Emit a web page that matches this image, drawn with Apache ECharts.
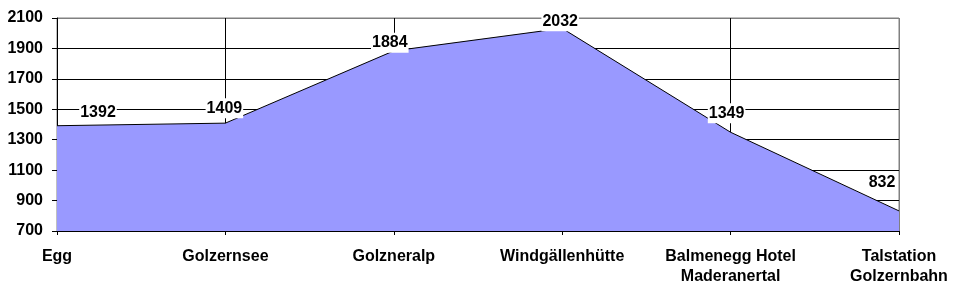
<!DOCTYPE html>
<html><head><meta charset="utf-8">
<script src="https://cdn.jsdelivr.net/npm/echarts@6/dist/echarts.min.js"></script>
<style>html,body{margin:0;padding:0;background:#fff}#c{width:966px;height:305px}</style>
</head><body><div id="c"></div>
<script>
const categories = ['Egg', 'Golzernsee', 'Golzneralp', 'Windgällenhütte', 'Balmenegg Hotel\nMaderanertal', 'Talstation\nGolzernbahn'];
const elevations = [1392, 1409, 1884, 2032, 1349, 832];
const labelOffsets = [[41, -13], [-1, -15], [-4, -8], [-2, -7], [-4, -19], [-17, -28]];
const yMin = 700, yMax = 2100, yStep = 200;

const font = 'Liberation Sans, Arial, sans-serif';
const chart = echarts.init(document.getElementById('c'), null, {renderer: 'canvas'});
chart.setOption({
  animation: false,
  backgroundColor: '#fff',
  grid: {left: 57, right: 67, top: 18, bottom: 74, show: true, borderColor: '#808080', borderWidth: 1},
  xAxis: {
    type: 'category', data: categories, boundaryGap: false,
    axisLine: {lineStyle: {color: '#000', width: 1}},
    axisTick: {show: true, length: 4, lineStyle: {color: '#000'}, alignWithLabel: true},
    axisLabel: {color: '#000', fontFamily: font, fontWeight: 'bold', fontSize: 16, lineHeight: 20, margin: 16, interval: 0},
    splitLine: {show: true, lineStyle: {color: ['#000', '#000', '#000', '#000', '#000', '#808080'], width: 1}}
  },
  yAxis: {
    type: 'value', min: yMin, max: yMax, interval: yStep,
    axisLine: {show: true, lineStyle: {color: '#000'}},
    axisTick: {show: true, length: 5, lineStyle: {color: '#000'}},
    axisLabel: {color: '#000', fontFamily: font, fontWeight: 'bold', fontSize: 16, margin: 14, formatter: v => String(v)},
    splitLine: {show: true, lineStyle: {color: ['#000', '#000', '#000', '#000', '#000', '#000', '#000', '#808080'], width: 1}}
  },
  series: [{
    type: 'line',
    data: elevations.map((v, i) => ({value: v, label: {offset: labelOffsets[i]}})),
    symbol: 'circle', symbolSize: 0, showSymbol: true,
    lineStyle: {color: '#000', width: 1},
    itemStyle: {color: '#000'},
    areaStyle: {color: '#9999FF', opacity: 1},
    label: {show: true, position: 'inside', color: '#000', fontFamily: font, fontWeight: 'bold', fontSize: 16, backgroundColor: '#fff', padding: [2, 1, 2, 1], formatter: p => String(p.value)}
  }]
});
</script></body></html>
